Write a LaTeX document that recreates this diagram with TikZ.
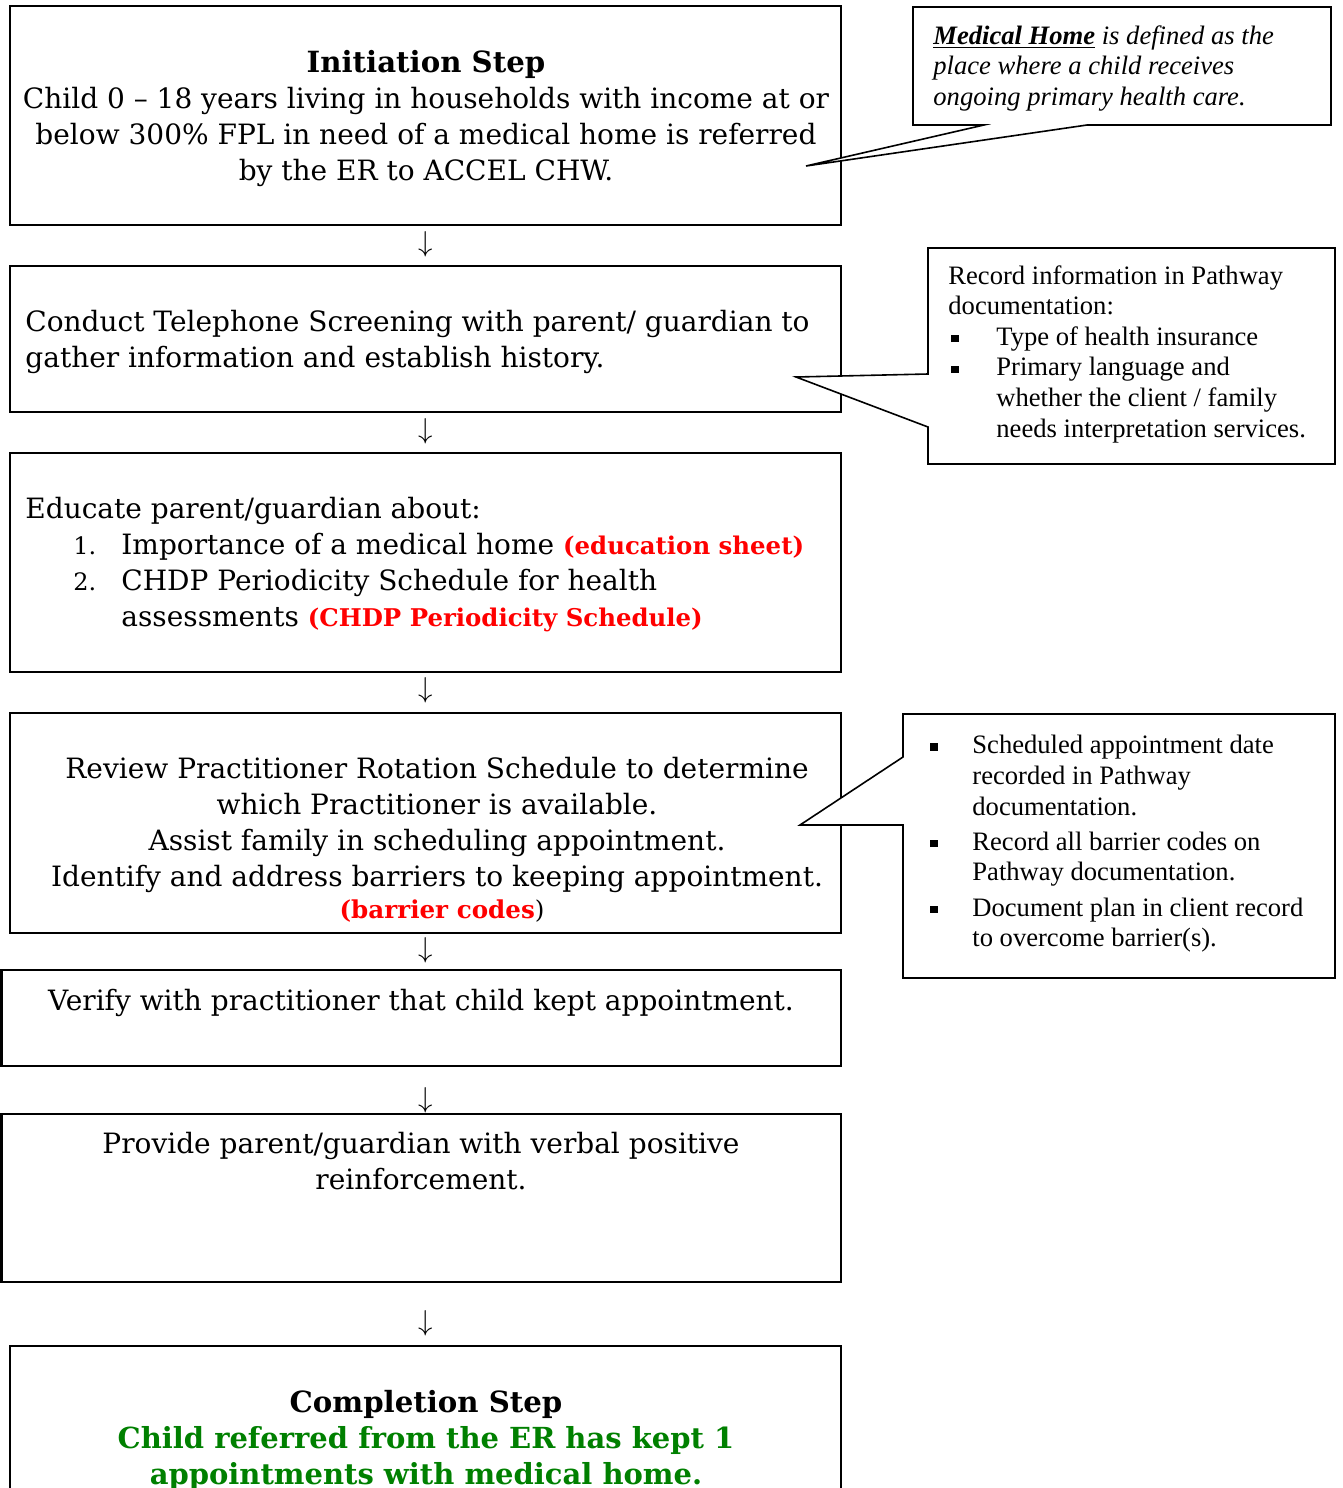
\documentclass[tikz,border=0pt]{standalone}
\usepackage{fontspec}
\setmainfont{Liberation Serif}
\newfontfamily\boxfont{DejaVu Serif}
\definecolor{refred}{RGB}{255,0,0}
\definecolor{refgreen}{RGB}{0,128,0}
\newcommand{\sqb}{\raisebox{1.6pt}{\rule{3.6pt}{3.6pt}}}
\newcommand{\redtag}[1]{{\fontsize{12.2}{18}\selectfont\color{refred}\textbf{#1}}}
\newcommand{\steptitle}[1]{{\fontsize{14.6}{18}\selectfont\textbf{#1}}}

\begin{document}
\begin{tikzpicture}[x=0.5pt,y=-0.5pt,
	stepbox/.style={line width=1.3pt},
	notebox/.style={line width=0.8pt, fill=white, line join=miter},
	steptext/.style={inner sep=0pt, font=\boxfont\fontsize{14}{18}\selectfont},
	notetext/.style={inner sep=0pt, anchor=north west, align=left, font=\fontsize{13.3}{15.3}\selectfont},
	downarrow/.style={inner sep=0pt, font=\fontsize{15}{15}\selectfont}]
		%%%%% START %%%%%
		\useasboundingbox (0,0) rectangle (1343,1488);
		
		% steps
		\draw[stepbox] (10,6) rectangle (841,225);
		\draw[stepbox] (10,266) rectangle (841,412);
		\draw[stepbox] (10,453) rectangle (841,672);
		\draw[stepbox] (10,713) rectangle (841,933);
		\draw[stepbox] (1.3,970) rectangle (841,1066);
		\draw[stepbox] (1.3,1114) rectangle (841,1282);
		\draw[stepbox] (10,1488) -- (10,1346) -- (841,1346) -- (841,1488);
		
		\node[steptext, anchor=north, align=center] (init) at (426,50)
			{\steptitle{Initiation Step}\\Child 0 – 18 years living in households with income at or\\below 300\% FPL in need of a medical home is referred\\by the ER to ACCEL CHW.};
		\node[steptext, anchor=north west, align=left] (screen) at (25,310)
			{Conduct Telephone Screening with parent/ guardian to\\gather information and establish history.};
		\node[steptext, anchor=north west, align=left] (educate) at (25,497)
			{Educate parent/guardian about:\\
			\hspace*{24pt}\makebox[24pt][l]{\fontsize{12}{18}\selectfont 1.}Importance of a medical home \redtag{(education sheet)}\\
			\hspace*{24pt}\makebox[24pt][l]{\fontsize{12}{18}\selectfont 2.}CHDP Periodicity Schedule for health\\
			\hspace*{48pt}assessments \redtag{(CHDP Periodicity Schedule)}};
		\node[steptext, anchor=north, align=center] (review) at (437,757)
			{Review Practitioner Rotation Schedule to determine\\which Practitioner is available.\\Assist family in scheduling appointment.\\Identify and address barriers to keeping appointment.};
		\node[steptext, font=\boxfont\fontsize{12.3}{15}\selectfont] (codes) at (442,911)
			{\textcolor{refred}{\textbf{(barrier codes}})};
		\node[steptext, anchor=north, align=center] (verify) at (421,989)
			{Verify with practitioner that child kept appointment.};
		\node[steptext, anchor=north, align=center] (praise) at (421,1132)
			{Provide parent/guardian with verbal positive\\reinforcement.};
		\node[steptext, anchor=north, align=center, font=\boxfont\fontsize{14.5}{18}\selectfont] (complete) at (426,1390)
			{\steptitle{Completion Step}\\\textcolor{refgreen}{\textbf{Child referred from the ER has kept 1}}\\\textcolor{refgreen}{\textbf{appointments with medical home.}}};
		
		\foreach \y [count=\i] in {244,431,690,950,1100,1323}
			\node[downarrow] (arr\i) at (426,\y) {$\downarrow$};
		
		% notes
		\draw[notebox] (913,7) -- (1331,7) -- (1331,125) -- (1087,125) -- (806,166) -- (984,125) -- (913,125) -- cycle;
		\node[notetext] (medhome) at (933,25)
			{\textit{\underline{\textbf{Medical Home}} is defined as the}\\\textit{place where a child receives}\\\textit{ongoing primary health care.}};
		
		\draw[notebox] (928,248) -- (1335,248) -- (1335,464) -- (928,464) -- (928,427) -- (796,377) -- (928,374) -- cycle;
		\node[notetext] (recinfo) at (948,265)
			{Record information in Pathway\\documentation:\\
			\hspace*{1.5pt}\makebox[22.5pt][l]{\sqb}Type of health insurance\\
			\hspace*{1.5pt}\makebox[22.5pt][l]{\sqb}Primary language and\\
			\hspace*{24pt}whether the client / family\\
			\hspace*{24pt}needs interpretation services.};
		
		\draw[notebox] (903,714) -- (1335,714) -- (1335,978) -- (903,978) -- (903,825) -- (800,825) -- (903,757) -- cycle;
		\node[notetext] (apptnote) at (930,735)
			{\makebox[21pt][l]{\sqb}Scheduled appointment date\\
			\hspace*{21pt}recorded in Pathway\\
			\hspace*{21pt}documentation.\\[2.3pt]
			\makebox[21pt][l]{\sqb}Record all barrier codes on\\
			\hspace*{21pt}Pathway documentation.\\[2.3pt]
			\makebox[21pt][l]{\sqb}Document plan in client record\\
			\hspace*{21pt}to overcome barrier(s).};
		
		%%%%% END %%%%%
\end{tikzpicture}
\end{document}
